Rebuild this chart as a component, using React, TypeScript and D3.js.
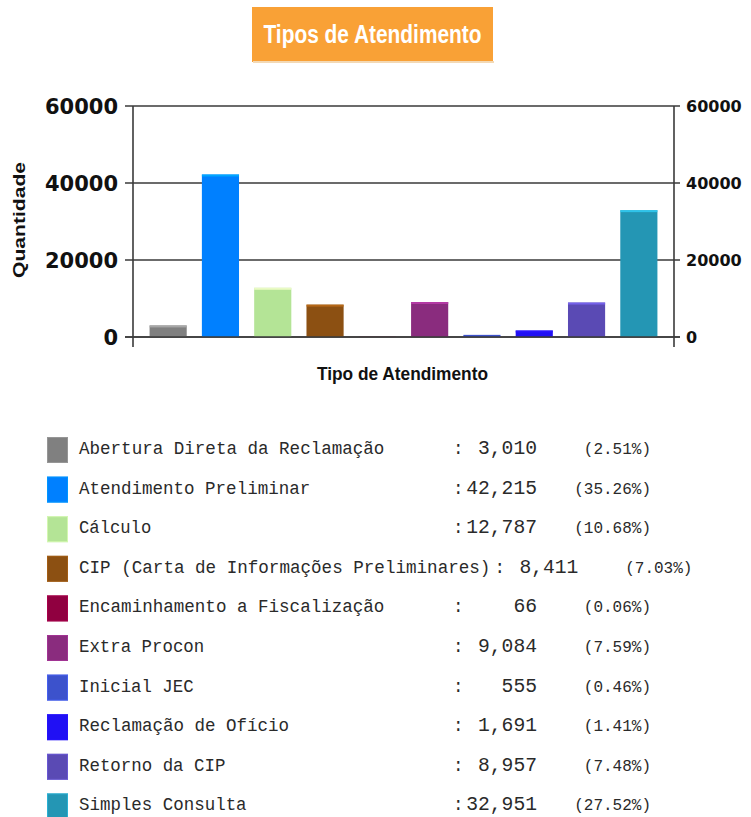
import React from "react";
import * as d3 from "d3";

const categories = [
  "Abertura Direta da Reclamação",
  "Atendimento Preliminar",
  "Cálculo",
  "CIP (Carta de Informações Preliminares)",
  "Encaminhamento a Fiscalização",
  "Extra Procon",
  "Inicial JEC",
  "Reclamação de Ofício",
  "Retorno da CIP",
  "Simples Consulta",
];
const values = [3010, 42215, 12787, 8411, 66, 9084, 555, 1691, 8957, 32951];
const colors = [
  "#808080", "#0080ff", "#b4e496", "#8c5012", "#900040",
  "#8a2c7e", "#3c52cc", "#2010f4", "#5a4ab4", "#2496b4",
];
const yTicks = [0, 20000, 40000, 60000];
const title = "Tipos de Atendimento";
const yTitle = "Quantidade";
const xTitle = "Tipo de Atendimento";

const W = 751;
const H = 817;
const plotLeft = 133;
const plotRight = 674;
const plotTop = 106;
const plotBottom = 337;

export default function App() {
  const x = d3
    .scaleBand<string>()
    .domain(categories)
    .range([plotLeft, plotRight])
    .paddingInner(0.29)
    .paddingOuter(0.317);
  const y = d3.scaleLinear().domain([0, 60000]).range([plotBottom, plotTop]);
  const total = d3.sum(values);
  const fmtNum = d3.format(",");
  const fmtPct = d3.format(".2f");

  const charW = 10.6;
  const nameX = 79;
  const baseColon = 453;
  const rowTop0 = 437;
  const rowStep = 39.6;
  const mono = "'Liberation Mono', 'Courier New', monospace";
  const narrow = "'Liberation Sans Narrow', 'Arial Narrow', 'Liberation Sans', Arial, sans-serif";

  return (
    <div style={{ position: "absolute", left: 0, top: 0 }}>
      <svg width={W} height={H} style={{ display: "block", background: "#fff" }}>
        {/* Title box */}
        <rect x={252} y={7} width={241} height={55} fill="#f9a136" />
        <rect x={253} y={61} width={241} height={2} fill="#f3d9b5" />
        <text
          x={372.5}
          y={43}
          textAnchor="middle"
          fill="#fff"
          fontFamily={narrow}
          fontWeight="bold"
          fontSize={25}
          textLength={218}
          lengthAdjust="spacingAndGlyphs"
        >
          {title}
        </text>

        {/* Gridlines and ticks */}
        {yTicks.map((t) => (
          <line
            key={"g" + t}
            x1={125}
            x2={680}
            y1={y(t)}
            y2={y(t)}
            stroke="#3a3a3a"
            strokeWidth={1.6}
          />
        ))}

        {/* Bars */}
        {values.map((v, i) => {
          const c = colors[i];
          const top = y(v);
          const h = plotBottom - top;
          const bx = x(categories[i])!;
          const bw = x.bandwidth();
          const hl = d3.color(c)!.brighter(0.9).formatHex();
          return (
            <g key={"b" + i}>
              <rect x={bx} y={top} width={bw} height={h} fill={c} />
              {h > 3 && <rect x={bx} y={top} width={bw} height={2} fill={hl} opacity={0.8} />}
            </g>
          );
        })}

        {/* Zero line over bars */}
        <line x1={125} x2={680} y1={y(0)} y2={y(0)} stroke="#3a3a3a" strokeWidth={1.6} />

        {/* Axes */}
        <line x1={plotLeft} x2={plotLeft} y1={plotTop} y2={347} stroke="#3a3a3a" strokeWidth={1.6} />
        <line x1={plotRight} x2={plotRight} y1={plotTop} y2={347} stroke="#3a3a3a" strokeWidth={1.6} />

        {/* Left tick labels */}
        {yTicks.map((t) => (
          <text
            key={"l" + t}
            x={118}
            y={y(t)}
            dy="0.36em"
            textAnchor="end"
            fontFamily="'DejaVu Sans', Verdana, sans-serif"
            fontWeight="bold"
            fontSize={21}
            fill="#111"
          >
            {t}
          </text>
        ))}
        {/* Right tick labels */}
        {yTicks.map((t) => (
          <text
            key={"r" + t}
            x={686}
            y={y(t)}
            dy="0.36em"
            textAnchor="start"
            fontFamily="'DejaVu Sans', Verdana, sans-serif"
            fontWeight="bold"
            fontSize={16}
            fill="#111"
          >
            {t}
          </text>
        ))}

        {/* Axis titles */}
        <text
          transform={`translate(25,220) rotate(-90)`}
          textAnchor="middle"
          fontFamily={narrow}
          fontWeight="bold"
          fontSize={17}
          fill="#111"
          textLength={116}
          lengthAdjust="spacingAndGlyphs"
        >
          {yTitle}
        </text>
        <text
          x={402.5}
          y={380}
          textAnchor="middle"
          fontFamily={narrow}
          fontWeight="bold"
          fontSize={18}
          fill="#111"
          textLength={171}
          lengthAdjust="spacingAndGlyphs"
        >
          {xTitle}
        </text>

        {/* Legend */}
        {categories.map((name, i) => {
          const top = rowTop0 + i * rowStep;
          const base = top + 17;
          const nameEnd = nameX + name.length * charW + 2;
          const colonX = Math.max(baseColon, nameEnd);
          const shift = colonX - baseColon;
          const numStr = fmtNum(values[i]);
          const pctStr = "(" + fmtPct((values[i] / total) * 100) + "%)";
          return (
            <g key={"lg" + i}>
              <rect x={47} y={top} width={21} height={26} fill={colors[i]} />
              <rect
                x={47.5}
                y={top + 0.5}
                width={20}
                height={25}
                fill="none"
                stroke={d3.color(colors[i])!.brighter(0.6).formatHex()}
                strokeWidth={1}
                opacity={0.7}
              />
              <text
                x={nameX}
                y={base}
                fontFamily={mono}
                fontSize={17.5}
                fill="#2a2a2a"
                textLength={name.length * charW - 2}
                lengthAdjust="spacingAndGlyphs"
              >
                {name}
              </text>
              <text x={colonX} y={base} fontFamily={mono} fontSize={17.5} fill="#2a2a2a">
                :
              </text>
              <text
                x={537 + shift}
                y={base}
                textAnchor="end"
                fontFamily={mono}
                fontSize={19.5}
                fill="#2a2a2a"
                textLength={numStr.length * 11.8}
                lengthAdjust="spacingAndGlyphs"
              >
                {numStr}
              </text>
              <text
                x={651 + shift}
                y={base}
                textAnchor="end"
                fontFamily={mono}
                fontSize={16}
                fill="#2a2a2a"
                textLength={pctStr.length * 9.6}
                lengthAdjust="spacingAndGlyphs"
              >
                {pctStr}
              </text>
            </g>
          );
        })}
      </svg>
    </div>
  );
}
